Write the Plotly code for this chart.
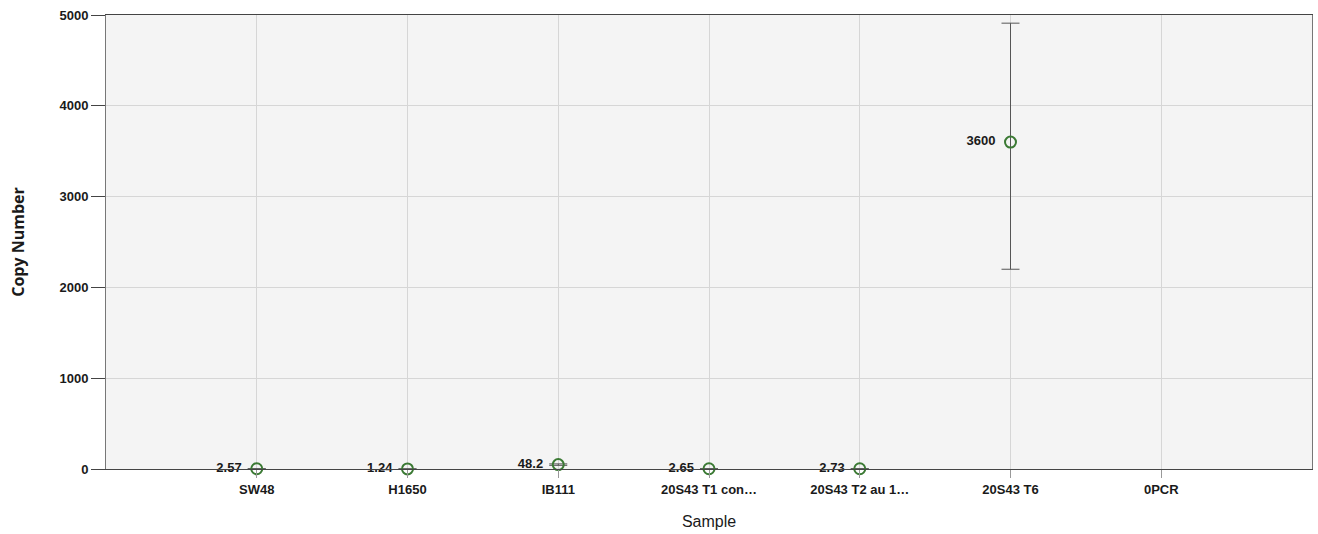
import plotly.graph_objects as go

samples = ["SW48", "H1650", "IB111", "20S43 T1 con…", "20S43 T2 au 1…", "20S43 T6", "0PCR"]
copy_number = [2.57, 1.24, 48.2, 2.65, 2.73, 3600, None]
labels = ["2.57", "1.24", "48.2", "2.65", "2.73", "3600", ""]
err_plus = [0, 0, 8, 0, 0, 1310, 0]
err_minus = [0, 0, 8, 0, 0, 1400, 0]
y_ticks = [0, 1000, 2000, 3000, 4000, 5000]

FONT = "Liberation Sans, Arial"

fig = go.Figure()
fig.add_trace(go.Scatter(
    x=samples, y=copy_number, mode="markers+text",
    text=[t + "  " if t else "" for t in labels], textposition="middle left",
    textfont=dict(family=FONT, size=13, color="#1a1a1a", weight="bold"),
    marker=dict(symbol="circle-open", size=11, color="#3b7a34", line=dict(width=2, color="#3b7a34")),
    error_y=dict(type="data", symmetric=False, array=err_plus, arrayminus=err_minus,
                 color="#555", thickness=1, width=9),
    cliponaxis=False, showlegend=False, hoverinfo="skip",
))

fig.update_layout(
    width=1318, height=534,
    margin=dict(l=106, r=6, t=15, b=65),
    paper_bgcolor="white", plot_bgcolor="#f4f4f4",
    font=dict(family=FONT, size=13, color="#1a1a1a"),
    xaxis=dict(
        type="category", categoryorder="array", categoryarray=samples,
        range=[-1, 7], showgrid=True, gridcolor="#d6d6d6", gridwidth=1,
        showline=True, linecolor="#444", linewidth=1, mirror=True,
        ticks="outside", ticklen=8, tickcolor="#999",
        tickfont=dict(family=FONT, size=13, color="#1a1a1a", weight="bold"),
        title=dict(text="Sample", font=dict(family=FONT, size=16, color="#1a1a1a"), standoff=20),
        zeroline=False, automargin=False,
    ),
    yaxis=dict(
        range=[0, 5000], tickvals=y_ticks, showgrid=True, gridcolor="#d6d6d6", gridwidth=1,
        showline=True, linecolor="#777", linewidth=1, mirror=True,
        ticks="outside", ticklen=14, tickcolor="#444",
        tickfont=dict(family=FONT, size=13, color="#1a1a1a", weight="bold"),
        title=dict(text="<b>Copy Number</b>", font=dict(family="Open Sans, DejaVu Sans", size=16, color="#1a1a1a"), standoff=30),
        zeroline=False, automargin=False,
    ),
)

fig.write_html("out.html", config={"displayModeBar": False},
               post_script="document.body.style.margin='0px';document.body.style.overflow='hidden';")
